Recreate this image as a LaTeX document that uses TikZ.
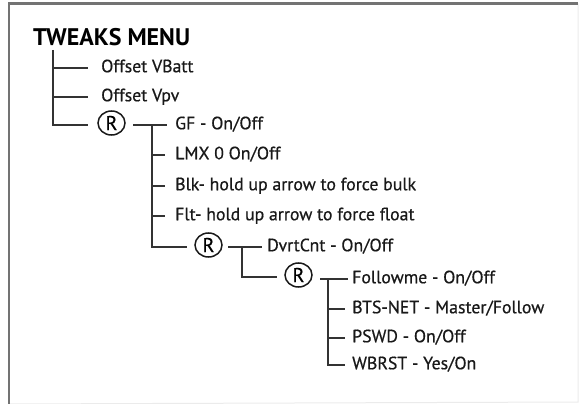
\documentclass[tikz,border=0pt]{standalone}
\usepackage{fontspec}
\setmainfont{PT Sans}
\newfontfamily\lblfont[FakeBold=0.6]{PT Sans}
\usetikzlibrary{shapes.geometric}
\begin{document}
\begin{tikzpicture}[x=1pt,y=-1pt,
  tl/.style={line width=1.5pt, draw=black!80},
  lbl/.style={anchor=west, inner sep=0pt, text height=12pt, text depth=3.5pt, font=\lblfont\fontsize{17.8}{20}\selectfont, text=black!90},
  regmark/.style={ellipse, draw=black!90, line width=1.5pt, minimum width=27pt, minimum height=24pt, inner sep=0pt, font=\lblfont\fontsize{20}{22}\selectfont},
  frameline/.style={line width=2.5pt, draw=black!55},
  framelight/.style={line width=1pt, draw=black!8}]
\useasboundingbox (0,0) rectangle (581,404);
% frame
\coordinate (fa) at (9,404);
\coordinate (fb) at (9,3.5);
\coordinate (fc) at (578,3.5);
\coordinate (fd) at (578,402);
\draw[framelight] (fc) -- (fd) -- (fa);
\draw[frameline] (fa) -- (fb) -- (fc);
% title
\node[anchor=west, inner sep=0pt, font=\fontsize{24}{26}\selectfont\bfseries, text=black] (title) at (33,37) {TWEAKS MENU};
% level 1
\coordinate (v1top) at (53,50);
\coordinate (v1a) at (53,68);  \coordinate (v1ae) at (88,68);
\coordinate (v1b) at (53,97);  \coordinate (v1be) at (88,97);
\coordinate (v1c) at (53,125); \coordinate (v1ce) at (88,125);
\node[lbl] (vbatt) at (101,68) {Offset VBatt};
\node[lbl] (vpv) at (101,97) {Offset Vpv};
\node[regmark] (r1) at (111.5,123) {R};
\draw[tl] (v1top) -- (v1c) -- (v1ce);
\draw[tl] (v1a) -- (v1ae);
\draw[tl] (v1b) -- (v1be);
% level 2
\coordinate (h2s) at (133,125); \coordinate (h2e) at (167,125);
\coordinate (v2top) at (152,125);
\coordinate (v2a) at (152,155); \coordinate (v2ae) at (165,155);
\coordinate (v2b) at (152,186); \coordinate (v2be) at (165,186);
\coordinate (v2c) at (152,216); \coordinate (v2ce) at (165,216);
\coordinate (v2d) at (152,247); \coordinate (v2de) at (187,247);
\draw[tl] (h2s) -- (h2e);
\draw[tl] (v2top) -- (v2d) -- (v2de);
\draw[tl] (v2a) -- (v2ae);
\draw[tl] (v2b) -- (v2be);
\draw[tl] (v2c) -- (v2ce);
\node[lbl] (gf) at (175,125) {GF - On/Off};
\node[lbl] (lmx) at (175,155) {LMX 0 On/Off};
\node[lbl] (blk) at (175,186) {Blk- hold up arrow to force bulk};
\node[lbl] (flt) at (175,216) {Flt- hold up arrow to force float};
\node[regmark] (r2) at (208.5,245) {R};
% level 3
\coordinate (h3s) at (228,247); \coordinate (h3e) at (262,247);
\coordinate (v3top) at (242,247);
\coordinate (v3a) at (242,277); \coordinate (v3ae) at (277,277);
\draw[tl] (h3s) -- (h3e);
\draw[tl] (v3top) -- (v3a) -- (v3ae);
\node[lbl] (dvrt) at (267,247) {DvrtCnt - On/Off};
\node[regmark] (r3) at (298.5,275) {R};
% level 4
\coordinate (h4s) at (320,279); \coordinate (h4e) at (348,279);
\coordinate (v4top) at (328,279);
\coordinate (v4a) at (328,309); \coordinate (v4ae) at (345,309);
\coordinate (v4b) at (328,338); \coordinate (v4be) at (345,338);
\coordinate (v4c) at (328,365); \coordinate (v4ce) at (345,365);
\draw[tl] (h4s) -- (h4e);
\draw[tl] (v4top) -- (v4c) -- (v4ce);
\draw[tl] (v4a) -- (v4ae);
\draw[tl] (v4b) -- (v4be);
\node[lbl] (follow) at (352,279) {Followme - On/Off};
\node[lbl] (bts) at (352,309) {BTS-NET - Master/Follow};
\node[lbl] (pswd) at (352,338) {PSWD - On/Off};
\node[lbl] (wbrst) at (352,365) {WBRST - Yes/On};
\end{tikzpicture}
\end{document}
